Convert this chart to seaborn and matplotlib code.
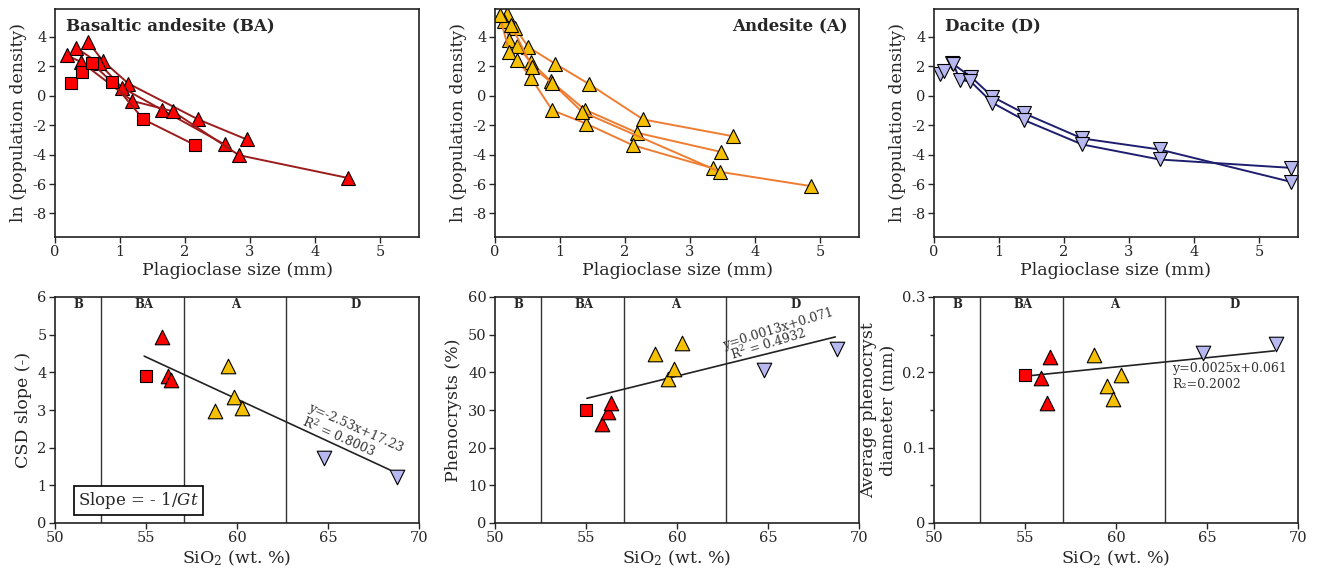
import pandas as pd
import seaborn as sns
import matplotlib.pyplot as plt
from matplotlib.ticker import MultipleLocator

# ---- CSD curves: plagioclase size (mm) vs ln(population density) ----
ba_c1_size = [0.51, 0.74, 1.13, 2.20, 2.95]
ba_c1_ln = [3.66, 2.35, 0.83, -1.60, -2.97]
ba_c2_size = [0.33, 0.68, 1.03, 1.64, 2.61]
ba_c2_ln = [3.25, 2.20, 0.56, -0.94, -3.31]
ba_c3_size = [0.18, 0.40, 1.19, 1.81, 2.83, 4.50]
ba_c3_ln = [2.75, 2.30, -0.35, -1.05, -4.04, -5.58]
ba_sq_size = [0.25, 0.42, 0.57, 0.88, 1.36, 2.16]
ba_sq_ln = [0.85, 1.60, 2.20, 0.92, -1.60, -3.36]

a_c1_size = [0.18, 0.31, 0.51, 0.92, 1.45, 2.28, 3.66]
a_c1_ln = [5.58, 4.61, 3.32, 2.19, 0.79, -1.61, -2.75]
a_c2_size = [0.14, 0.22, 0.34, 0.55, 0.86, 1.38, 2.19, 3.47]
a_c2_ln = [5.09, 3.82, 3.37, 2.30, 0.99, -0.94, -2.52, -3.81]
a_c3_size = [0.07, 0.22, 0.34, 0.55, 0.88, 1.40, 2.12, 3.36]
a_c3_ln = [5.47, 2.98, 2.46, 1.24, -0.98, -1.89, -3.36, -4.94]
a_c4_size = [0.25, 0.57, 0.87, 1.34, 3.46, 4.86]
a_c4_ln = [4.79, 1.96, 0.90, -1.09, -5.17, -6.14]

d_c1_size = [0.10, 0.27, 0.57, 0.90, 1.39, 2.28, 3.47, 5.49]
d_c1_ln = [1.46, 2.23, 1.28, -0.07, -1.20, -2.90, -3.65, -5.85]
d_c2_size = [0.16, 0.30, 0.40, 0.56, 0.90, 1.39, 2.28, 3.47, 5.49]
d_c2_ln = [1.69, 2.14, 1.06, 0.99, -0.48, -1.66, -3.31, -4.33, -4.90]

# ---- whole-rock SiO2 (wt. %) per sample ----
sio2_ba_sq = [55.0]
sio2_ba = [55.9, 56.2, 56.4]
sio2_a = [58.8, 59.5, 59.85, 60.25]
sio2_d = [64.8, 68.8]

csd_ba_sq = [3.91]
csd_ba = [4.94, 3.90, 3.80]
csd_a = [2.97, 4.17, 3.35, 3.04]
csd_d = [1.72, 1.22]

phen_ba_sq = [30.0]
phen_ba = [26.3, 29.4, 31.8]
phen_a = [44.8, 38.2, 40.9, 47.8]
phen_d = [40.6, 46.3]

diam_ba_sq = [0.197]
diam_ba = [0.193, 0.159, 0.221]
diam_a = [0.223, 0.182, 0.165, 0.196]
diam_d = [0.226, 0.238]

# trend lines as drawn in the figure
csd_trend_x = [54.9, 68.4]
csd_trend_y = [4.43, 1.41]
phen_trend_x = [55.05, 68.7]
phen_trend_y = [33.1, 49.4]
diam_trend_x = [55.05, 68.7]
diam_trend_y = [0.195, 0.2285]

field_bounds = [52.5, 57.1, 62.7]
field_names = ['B', 'BA', 'A', 'D']
field_x = [51.3, 54.9, 59.9, 66.5]

RED, RED_LINE = '#ff0000', '#9b1c1c'
YEL, YEL_LINE = '#f5c000', '#ee7d32'
LAV, LAV_LINE = '#b8b8f0', '#1e1e6e'


def curves(*pairs):
    rows = []
    for i, (xs, ys) in enumerate(pairs):
        for x, y in zip(xs, ys):
            rows.append((i, x, y))
    return pd.DataFrame(rows, columns=['curve', 'size', 'ln'])


sns.set_theme(style="ticks")
plt.rcParams['font.family'] = ['DejaVu Serif']
plt.rcParams['mathtext.fontset'] = 'dejavuserif'
plt.rcParams['axes.unicode_minus'] = False

fig = plt.figure(figsize=(13.2, 5.68), dpi=100)
W, H = 1320, 568
lefts = [55, 495, 934]
wid = 364


def add_ax(x0, y0, y1):
    return fig.add_axes([x0 / W, (H - y1) / H, wid / W, (y1 - y0) / H])


top = [add_ax(x, 9, 237) for x in lefts]
bot = [add_ax(x, 297, 523) for x in lefts]

line_kw = dict(estimator=None, sort=False, lw=1.4, legend=False)
mk_kw = dict(markeredgecolor='black', markeredgewidth=0.8)

ax = top[0]
sns.lineplot(data=curves((ba_c1_size, ba_c1_ln), (ba_c2_size, ba_c2_ln), (ba_c3_size, ba_c3_ln)),
             x='size', y='ln', units='curve', color=RED_LINE, marker='^', ms=10,
             markerfacecolor=RED, ax=ax, **line_kw, **mk_kw)
sns.lineplot(data=curves((ba_sq_size, ba_sq_ln)), x='size', y='ln', units='curve',
             color=RED_LINE, marker='s', ms=9, markerfacecolor=RED, ax=ax, **line_kw, **mk_kw)
ax.text(0.03, 0.965, 'Basaltic andesite (BA)', transform=ax.transAxes, ha='left', va='top',
        fontsize=12, fontweight='bold')

ax = top[1]
sns.lineplot(data=curves((a_c1_size, a_c1_ln), (a_c2_size, a_c2_ln), (a_c3_size, a_c3_ln),
                         (a_c4_size, a_c4_ln)),
             x='size', y='ln', units='curve', color=YEL_LINE, marker='^', ms=10,
             markerfacecolor=YEL, ax=ax, **line_kw, **mk_kw)
ax.text(0.97, 0.965, 'Andesite (A)', transform=ax.transAxes, ha='right', va='top',
        fontsize=12, fontweight='bold')

ax = top[2]
sns.lineplot(data=curves((d_c1_size, d_c1_ln), (d_c2_size, d_c2_ln)),
             x='size', y='ln', units='curve', color=LAV_LINE, marker='v', ms=10,
             markerfacecolor=LAV, ax=ax, **line_kw, **mk_kw)
ax.text(0.03, 0.965, 'Dacite (D)', transform=ax.transAxes, ha='left', va='top',
        fontsize=12, fontweight='bold')

for ax in top:
    ax.set_xlim(0, 5.6)
    ax.set_ylim(-9.6, 5.9)
    ax.set_xticks(range(0, 6))
    ax.set_yticks([4, 2, 0, -2, -4, -6, -8])
    ax.set_xlabel('Plagioclase size (mm)', fontsize=12.5, labelpad=2)
    ax.set_ylabel('ln (population density)', fontsize=12.5, labelpad=4)

bottom_sets = [
    (csd_ba_sq, csd_ba, csd_a, csd_d, csd_trend_x, csd_trend_y),
    (phen_ba_sq, phen_ba, phen_a, phen_d, phen_trend_x, phen_trend_y),
    (diam_ba_sq, diam_ba, diam_a, diam_d, diam_trend_x, diam_trend_y),
]
ylims = [(0, 6), (0, 60), (0, 0.3)]
ylabels = ['CSD slope (-)', 'Phenocrysts (%)', 'Average phenocryst\ndiameter (mm)']

for ax, (sq, ba, a, d, tx, ty), yl, lab in zip(bot, bottom_sets, ylims, ylabels):
    for b in field_bounds:
        ax.axvline(b, color='#333333', lw=1)
    sns.lineplot(x=tx, y=ty, color='#222222', lw=1.2, ax=ax, legend=False)
    sc_kw = dict(edgecolor='black', linewidth=0.8, ax=ax, legend=False, zorder=3)
    sns.scatterplot(x=sio2_ba_sq, y=sq, marker='s', s=80, color=RED, **sc_kw)
    sns.scatterplot(x=sio2_ba, y=ba, marker='^', s=110, color=RED, **sc_kw)
    sns.scatterplot(x=sio2_a, y=a, marker='^', s=110, color=YEL, **sc_kw)
    sns.scatterplot(x=sio2_d, y=d, marker='v', s=110, color=LAV, **sc_kw)
    ax.set_xlim(50, 70)
    ax.set_ylim(*yl)
    ax.set_xticks(range(50, 71, 5))
    top_y = yl[1] * 0.965
    for name, fx in zip(field_names, field_x):
        ax.text(fx, top_y, name, ha='center', va='center', fontsize=8.5, fontweight='bold')
    ax.set_xlabel('SiO$_2$ (wt. %)', fontsize=12.5, labelpad=2)
    ax.set_ylabel(lab, fontsize=12.5, labelpad=4)

bot[0].set_yticks(range(0, 7))
bot[1].set_yticks(range(0, 61, 10))
bot[2].set_yticks([0, 0.1, 0.2, 0.3])
bot[2].set_yticklabels(['0', '0.1', '0.2', '0.3'])
bot[2].yaxis.set_minor_locator(MultipleLocator(0.05))

bot[0].text(66.5, 2.52, 'y=-2.53x+17.23', rotation=-24, ha='center', va='center',
            fontsize=9, color='#333333', rotation_mode='anchor')
bot[0].text(65.6, 2.3, 'R$^2$ = 0.8003', rotation=-24, ha='center', va='center',
            fontsize=9, color='#333333', rotation_mode='anchor')
bot[0].text(54.6, 0.6, 'Slope = - 1/$Gt$', ha='center', va='center', fontsize=12,
            bbox=dict(boxstyle='square,pad=0.25', fc='white', ec='black', lw=1.2))
bot[1].text(65.55, 51.6, 'y=0.0013x+0.071', rotation=17, ha='center', va='center',
            fontsize=9, color='#333333', rotation_mode='anchor')
bot[1].text(65.0, 47.6, 'R$^2$ = 0.4932', rotation=17, ha='center', va='center',
            fontsize=9, color='#333333', rotation_mode='anchor')
bot[2].text(63.1, 0.205, 'y=0.0025x+0.061', ha='left', va='center', fontsize=9, color='#333333')
bot[2].text(63.1, 0.184, 'R₂=0.2002', ha='left', va='center', fontsize=9, color='#333333')

for ax in top + bot:
    for s in ax.spines.values():
        s.set_color('#222222')
        s.set_linewidth(1.2)
    ax.tick_params(labelsize=10.5, length=4, width=1, direction='out', pad=2)
    ax.tick_params(which='minor', length=3, width=1)
    ax.grid(False)

fig.savefig('out.png', dpi=100)
